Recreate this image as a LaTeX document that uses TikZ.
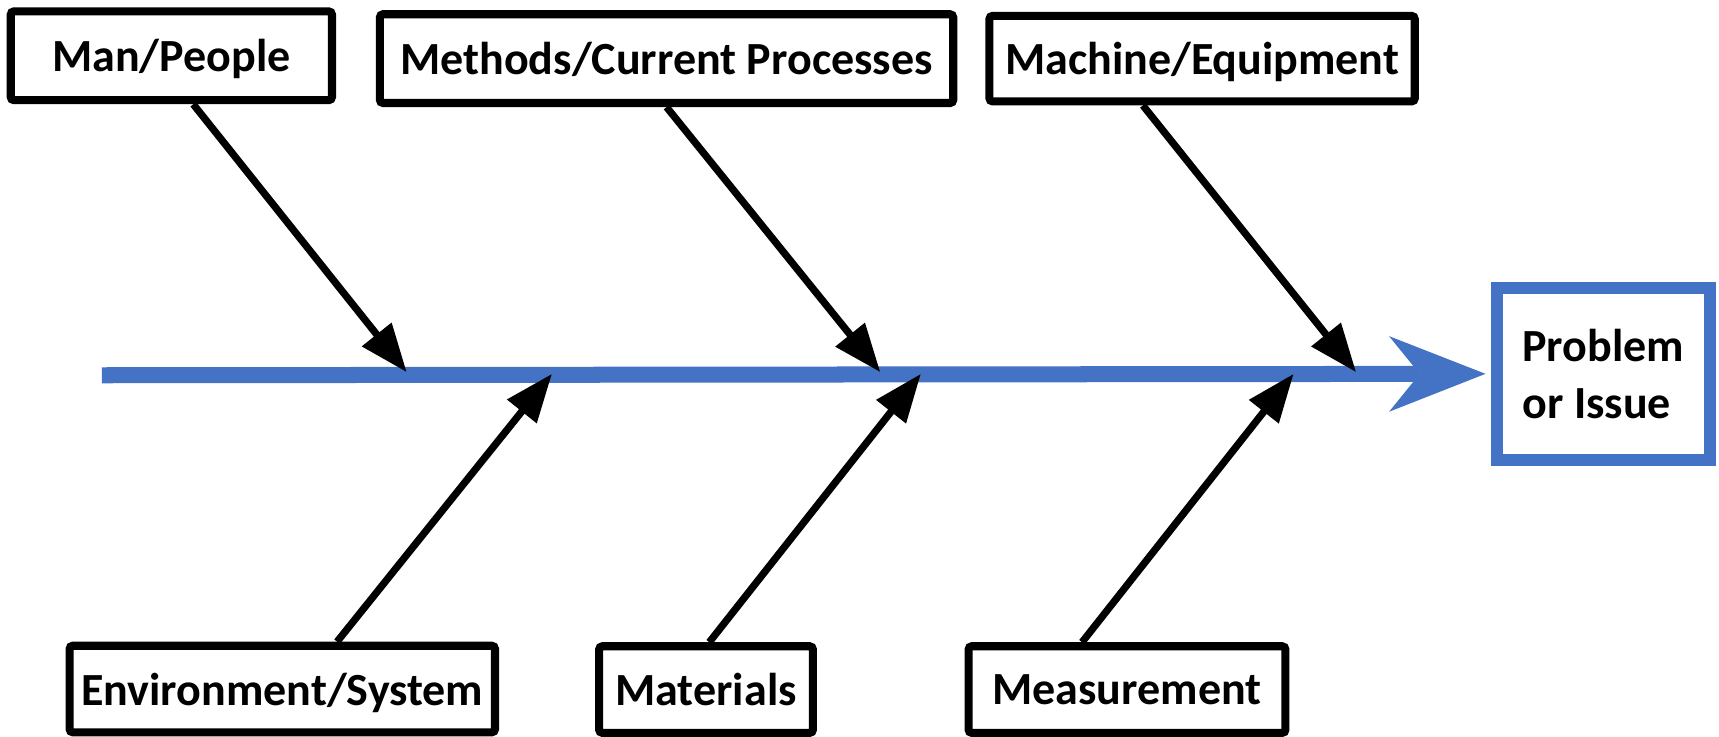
\documentclass[tikz,border=0pt]{standalone}
\usepackage{fontspec}
\setmainfont{Carlito}
\usetikzlibrary{arrows.meta}
\definecolor{spineblue}{HTML}{4472C4}

\tikzset{
  cause/.style={draw=black, line width=3.7pt, rounded corners=1.5pt, fill=white,
    inner sep=0pt, text depth=0pt, font=\fontsize{21}{26}\selectfont\bfseries},
  effect/.style={draw=spineblue, line width=5.5pt, fill=white, inner sep=0pt,
    align=left, font=\fontsize{21}{26}\selectfont\bfseries},
  bone/.style={black, line width=3.3pt, -{Triangle[length=22pt, width=16.5pt]}},
  spine/.style={spineblue, line width=7.3pt,
    -{Stealth[length=44pt, width=34.5pt, inset=14pt, line width=0pt]}}
}

\begin{document}
\begin{tikzpicture}[x=0.5pt, y=-0.5pt]
  \useasboundingbox (0,0) rectangle (1568,672);

  \node[cause, minimum width=146.5pt, minimum height=40.5pt] (man) at (156.3,50.9) {Man/People};
  \node[cause, minimum width=261.5pt, minimum height=40.5pt] (methods) at (608,53.5) {Methods/Current Processes};
  \node[cause, minimum width=194pt, minimum height=39pt] (machine) at (1096.5,53.5) {Machine/Equipment};
  \node[cause, minimum width=194pt, minimum height=39.5pt] (env) at (257.5,628.5) {Environment/System};
  \node[cause, minimum width=97.5pt, minimum height=39.5pt] (materials) at (644,629) {Materials};
  \node[cause, minimum width=144.5pt, minimum height=39.5pt] (measure) at (1028,629) {Measurement};
  \node[effect, minimum width=97pt, minimum height=78.5pt] (problem) at (1462.5,341) {Problem\\or Issue};

  \coordinate (tail) at (93,342.3);
  \coordinate (tman) at (371,339.5);
  \coordinate (tmethods) at (803,339.5);
  \coordinate (tmachine) at (1237,339.5);
  \coordinate (tenv) at (503.5,341);
  \coordinate (tmaterials) at (840,341);
  \coordinate (tmeasure) at (1180,341);

  \draw[spine, shorten >=2.5pt] (tail) -- (problem.west);

  \draw[bone] ([xshift=10pt]man.south) -- (tman);
  \draw[bone] (methods.south) -- (tmethods);
  \draw[bone] ([xshift=-27pt]machine.south) -- (tmachine);
  \draw[bone] ([xshift=25pt]env.north) -- (tenv);
  \draw[bone] ([xshift=1.5pt]materials.north) -- (tmaterials);
  \draw[bone] ([xshift=-20.5pt]measure.north) -- (tmeasure);
\end{tikzpicture}
\end{document}
